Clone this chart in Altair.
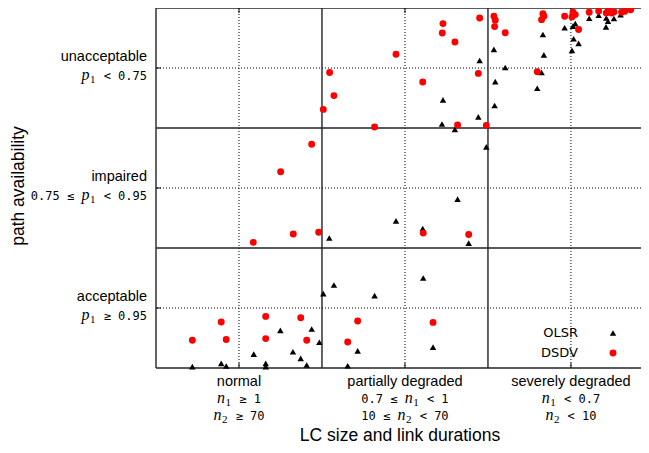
import re
import altair as alt
import pandas as pd

# ---------------- data ----------------
series = ["OLSR", "DSDV"]

olsr_x = [0.219, 0.393, 0.423, 0.589, 0.661, 0.661, 0.749, 0.825, 0.872, 0.908,
          0.938, 0.984, 1.008, 1.044, 1.072, 1.155, 1.215, 1.317, 1.446, 1.607,
          1.610, 1.669, 1.723, 1.729, 1.801, 1.817, 1.884, 1.942, 1.950, 1.990,
          2.036, 2.044, 2.040, 2.104, 2.297, 2.323, 2.331, 2.337, 2.462, 2.506,
          2.512, 2.516, 2.526, 2.546, 2.610, 2.667, 2.713, 2.723, 2.711, 2.759,
          2.799]
olsr_y = [0.011, 0.039, 0.017, 0.116, 0.039, 0.011, 0.314, 0.135, 0.080, 0.025,
          0.325, 0.215, 0.620, 1.083, 0.692, 0.019, 0.143, 0.603, 1.226, 1.163,
          0.750, 0.174, 2.033, 2.234, 1.989, 1.407, 1.041, 2.093, 2.562, 1.843,
          2.655, 2.386, 2.188, 2.504, 2.331, 2.463, 2.779, 2.609, 2.835, 2.647,
          2.849, 2.744, 2.870, 2.705, 2.915, 2.940, 2.917, 2.890, 2.843, 2.912,
          2.945]

dsdv_x = [0.219, 0.393, 0.423, 0.586, 0.661, 0.661, 0.751, 0.827, 0.872, 0.908,
          0.938, 0.980, 1.008, 1.046, 1.072, 1.155, 1.215, 1.317, 1.446, 1.607,
          1.610, 1.669, 1.725, 1.729, 1.801, 1.817, 1.884, 1.942, 1.950, 1.990,
          2.036, 2.044, 2.040, 2.104, 2.297, 2.323, 2.331, 2.337, 2.462, 2.506,
          2.512, 2.526, 2.546, 2.610, 2.667, 2.713, 2.725, 2.745, 2.759, 2.805,
          2.825, 2.860]
dsdv_y = [0.231, 0.383, 0.237, 1.047, 0.430, 0.245, 1.636, 1.116, 0.419, 0.231,
          1.865, 1.132, 2.155, 2.463, 2.270, 0.217, 0.391, 2.008, 2.614, 2.383,
          1.124, 0.380, 2.791, 2.870, 2.717, 2.025, 1.113, 2.455, 2.917, 2.022,
          2.931, 2.898, 2.845, 2.793, 2.469, 2.903, 2.953, 2.931, 2.931, 2.926,
          2.964, 2.945, 2.821, 2.964, 2.975, 2.959, 2.981, 2.959, 2.967, 2.964,
          2.973, 2.986]

y_categories = ["acceptable", "impaired", "unacceptable"]
y_conditions = ["p_1 ≥ 0.95", "0.75 ≤ p_1 < 0.95", "p_1 < 0.75"]
x_categories = ["normal", "partially degraded", "severely degraded"]
x_conditions_1 = ["n_1 ≥ 1", "0.7 ≤ n_1 < 1", "n_1 < 0.7"]
x_conditions_2 = ["n_2 ≥ 70", "10 ≤ n_2 < 70", "n_2 < 10"]
x_title = "LC size and link durations"
y_title = "path availability"

# ---------------- layout / style ----------------
W, H = 485, 360
X_MAX = 2.922
SANS = "Liberation Sans"
SANS_SIZE = 14.5
TITLE_SIZE = 17.5
MONO = "DejaVu Sans Mono"
MONO_SIZE = 12
MONO_W = 0.602 * MONO_SIZE
VAR_FONT = "Liberation Serif"
VAR_SIZE = 16
SUB_SIZE = 11

xs = alt.Scale(domain=[0, X_MAX], nice=False, zero=False)
ys = alt.Scale(domain=[0, 3], nice=False, zero=False)


def X(field):
    return alt.X(field, type="quantitative", scale=xs, axis=None)


def Y(field):
    return alt.Y(field, type="quantitative", scale=ys, axis=None)


n_sec = len(y_categories)
centers = pd.DataFrame({"v": [i + 0.5 for i in range(n_sec)]})
bounds_y = pd.DataFrame({"v": list(range(n_sec + 1))})
bounds_x = pd.DataFrame({"v": list(range(n_sec))})

layers = []

# dotted grid
layers.append(alt.Chart(centers).mark_rule(color="black", strokeDash=[1, 2], strokeWidth=1)
              .encode(x=X("v")))
layers.append(alt.Chart(centers).mark_rule(color="black", strokeDash=[1, 2], strokeWidth=1)
              .encode(y=Y("v")))
# solid section lines and borders
layers.append(alt.Chart(bounds_x).mark_rule(color="#222222", strokeWidth=1.4).encode(x=X("v")))
layers.append(alt.Chart(bounds_y).mark_rule(color="#222222", strokeWidth=1.4).encode(y=Y("v")))
# tick marks
layers.append(alt.Chart(centers).mark_rule(color="black").encode(
    y=Y("v"), x=alt.value(0), x2=alt.value(5)))
layers.append(alt.Chart(centers).mark_rule(color="black").encode(
    x=X("v"), y=alt.value(H), y2=alt.value(H - 5)))
layers.append(alt.Chart(centers).mark_rule(color="black").encode(
    x=X("v"), y=alt.value(0), y2=alt.value(5)))

# data points
layers.append(alt.Chart(pd.DataFrame({"x": olsr_x, "y": olsr_y})).mark_point(
    shape="triangle-up", filled=True, color="black", size=42, opacity=1
).encode(x=X("x"), y=Y("y")))
layers.append(alt.Chart(pd.DataFrame({"x": dsdv_x, "y": dsdv_y})).mark_circle(
    color="#ff0000", size=48, opacity=1
).encode(x=X("x"), y=Y("y")))


# ---------------- composite tick labels ----------------
def segments(expr):
    parts = re.split(r"([a-z])_(\d)", expr)
    segs = []
    i = 0
    while i < len(parts):
        if parts[i]:
            segs.append(("mono", parts[i]))
        if i + 2 < len(parts):
            segs.append(("var", parts[i + 1]))
            segs.append(("sub", parts[i + 2]))
        i += 3
    return segs


def seg_width(kind, text):
    if kind == "mono":
        return len(text) * MONO_W
    if kind == "var":
        return 0.5 * VAR_SIZE + 0.5
    return 0.5 * SUB_SIZE * len(text) + 1


def line_marks(df, pos_enc, expr, anchor, base_dy):
    segs = segments(expr)
    total = sum(seg_width(k, t) for k, t in segs)
    start = -total if anchor == "right" else -total / 2
    out = []
    cum = start
    for kind, text in segs:
        w = seg_width(kind, text)
        lead = len(text) - len(text.lstrip(" "))
        shown = text.strip(" ")
        off = cum + (lead * MONO_W if kind == "mono" else 0)
        if kind == "mono":
            kw = dict(font=MONO, fontSize=MONO_SIZE, dy=base_dy)
        elif kind == "var":
            kw = dict(font=VAR_FONT, fontSize=VAR_SIZE, fontStyle="italic", dy=base_dy)
        else:
            kw = dict(font=VAR_FONT, fontSize=SUB_SIZE, dy=base_dy + 2.5)
        if shown:
            d = df.copy()
            d["t"] = shown
            out.append(alt.Chart(d).mark_text(align="left", baseline="alphabetic", color="black",
                                              dx=off, **kw)
                       .encode(text="t:N", **pos_enc))
        cum += w
    return out


for i, (cat, cond) in enumerate(zip(y_categories, y_conditions)):
    d = pd.DataFrame({"v": [i + 0.5], "t": [cat]})
    enc = dict(y=Y("v"), x=alt.value(-9))
    layers.append(alt.Chart(d).mark_text(align="right", baseline="alphabetic", font=SANS,
                                         fontSize=SANS_SIZE, color="black", dy=-7)
                  .encode(text="t:N", **enc))
    layers.extend(line_marks(d[["v"]], enc, cond, "right", 12))

for i, (cat, c1, c2) in enumerate(zip(x_categories, x_conditions_1, x_conditions_2)):
    d = pd.DataFrame({"v": [i + 0.5], "t": [cat]})
    enc = dict(x=X("v"), y=alt.value(0))
    layers.append(alt.Chart(d).mark_text(align="center", baseline="alphabetic", font=SANS,
                                         fontSize=SANS_SIZE, color="black", dy=H + 18)
                  .encode(text="t:N", **enc))
    layers.extend(line_marks(d[["v"]], enc, c1, "center", H + 35))
    layers.extend(line_marks(d[["v"]], enc, c2, "center", H + 52))

# axis titles
layers.append(alt.Chart(pd.DataFrame({"t": [x_title]})).mark_text(
    align="center", baseline="alphabetic", font=SANS, fontSize=TITLE_SIZE, color="black"
).encode(text="t:N", x=alt.value(244), y=alt.value(H + 73)))
layers.append(alt.Chart(pd.DataFrame({"t": [y_title]})).mark_text(
    align="center", baseline="middle", font=SANS, fontSize=TITLE_SIZE, color="black", angle=270
).encode(text="t:N", x=alt.value(-137), y=alt.value(178)))

# manual legend (label left, symbol right)
legend_shapes = {"OLSR": ("triangle-up", "black", 42), "DSDV": ("circle", "#ff0000", 48)}
for j, name in enumerate(series):
    ly = 325 + 20 * j
    layers.append(alt.Chart(pd.DataFrame({"t": [name]})).mark_text(
        align="right", baseline="middle", font="DejaVu Sans", fontSize=13, color="black"
    ).encode(text="t:N", x=alt.value(422), y=alt.value(ly)))
    shp, col, sz = legend_shapes[name]
    layers.append(alt.Chart(pd.DataFrame({"t": [name]})).mark_point(
        shape=shp, filled=True, color=col, size=sz, opacity=1
    ).encode(x=alt.value(457), y=alt.value(ly)))

chart = alt.layer(*layers).properties(
    width=W, height=H,
    padding={"left": 148, "top": 0, "right": 0, "bottom": 77},
    autosize=alt.AutoSizeParams(type="none"),
    background="white",
).configure_view(stroke=None)

chart.save("out.html", embed_options={"renderer": "svg", "actions": False})
